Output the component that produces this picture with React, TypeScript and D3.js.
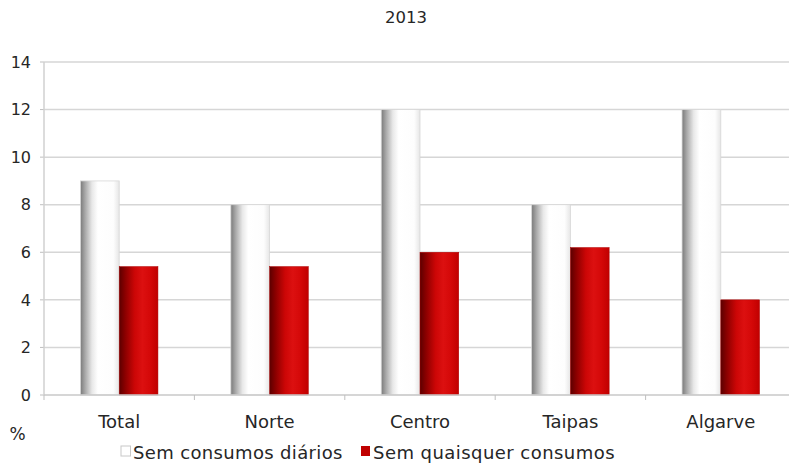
import React from "react";
import * as d3 from "d3";

const title = "2013";
const categories = ["Total", "Norte", "Centro", "Taipas", "Algarve"];
const seriesNames = ["Sem consumos diários", "Sem quaisquer consumos"];
const semConsumosDiarios = [9, 8, 12, 8, 12];
const semQuaisquerConsumos = [5.4, 5.4, 6, 6.2, 4];
const yTicks = [0, 2, 4, 6, 8, 10, 12, 14];

const W = 789;
const H = 465;
const FONT = "'DejaVu Sans', sans-serif";

export default function App() {
  const left = 44;
  const right = 796;
  const top = 62;
  const bottom = 395;
  const y = d3.scaleLinear().domain([0, 14]).range([bottom, top]);
  const x0 = d3.scaleBand<string>().domain(categories).range([left, right]).padding(0);
  const groupW = 77.5;
  const x1 = d3
    .scaleBand<string>()
    .domain(["a", "b"])
    .range([(x0.bandwidth() - groupW) / 2, (x0.bandwidth() + groupW) / 2])
    .padding(0);
  const bounds = categories.map((c) => x0(c) as number).concat([right]);

  return (
    <svg width={W} height={H} style={{ position: "absolute", left: 0, top: 0, background: "#fff" }}>
      <defs>
        <linearGradient id="gw" x1="0" x2="1" y1="0" y2="0">
          <stop offset="0" stopColor="#7a7a7a" />
          <stop offset="0.12" stopColor="#a8a8a8" />
          <stop offset="0.3" stopColor="#e8e8e8" />
          <stop offset="0.45" stopColor="#ffffff" />
          <stop offset="0.85" stopColor="#fdfdfd" />
          <stop offset="1" stopColor="#e6e6e6" />
        </linearGradient>
        <linearGradient id="gr" x1="0" x2="1" y1="0" y2="0">
          <stop offset="0" stopColor="#5c0000" />
          <stop offset="0.15" stopColor="#8a0000" />
          <stop offset="0.4" stopColor="#cc0606" />
          <stop offset="0.6" stopColor="#dc1010" />
          <stop offset="0.8" stopColor="#d40808" />
          <stop offset="1" stopColor="#c00000" />
        </linearGradient>
      </defs>
      <text x={406} y={23} textAnchor="middle" fontFamily={FONT} fontSize={16.5} fill="#262626">
        {title}
      </text>
      {yTicks.map((t) => (
        <g key={t}>
          {t > 0 && (
            <line x1={left} x2={W} y1={y(t)} y2={y(t)} stroke="#d6d6d6" strokeWidth={1.5} />
          )}
          <line x1={left - 4} x2={left} y1={y(t)} y2={y(t)} stroke="#bfbfbf" strokeWidth={1} />
          <text
            x={31}
            y={y(t)}
            dy="0.36em"
            textAnchor="end"
            fontFamily={FONT}
            fontSize={16}
            fill="#262626"
          >
            {t}
          </text>
        </g>
      ))}
      <line x1={left} x2={left} y1={top} y2={bottom} stroke="#d0d0d0" strokeWidth={1.5} />
      {categories.map((c, i) => {
        const gx = x0(c) as number;
        const xa = gx + (x1("a") as number);
        const xb = gx + (x1("b") as number);
        const bw = x1.bandwidth();
        return (
          <g key={c}>
            <rect
              x={xa}
              y={y(semConsumosDiarios[i])}
              width={bw}
              height={bottom - y(semConsumosDiarios[i])}
              fill="url(#gw)"
              stroke="#d8d8d8"
              strokeWidth={0.8}
            />
            <rect
              x={xb}
              y={y(semQuaisquerConsumos[i])}
              width={bw}
              height={bottom - y(semQuaisquerConsumos[i])}
              fill="url(#gr)"
              stroke="#b00000"
              strokeWidth={0.5}
            />
            <text
              x={gx + x0.bandwidth() / 2}
              y={428}
              textAnchor="middle"
              fontFamily={FONT}
              fontSize={18}
              fill="#262626"
            >
              {c}
            </text>
          </g>
        );
      })}
      <line x1={left} x2={W} y1={bottom} y2={bottom} stroke="#c8c8c8" strokeWidth={1.5} />
      {bounds.map((b, i) => (
        <line key={i} x1={b} x2={b} y1={bottom} y2={bottom + 5} stroke="#bfbfbf" strokeWidth={1} />
      ))}
      <text x={17.5} y={440} textAnchor="middle" fontFamily={FONT} fontSize={17} fill="#262626">
        %
      </text>
      <rect x={121} y={446} width={9.5} height={10} fill="#fff" stroke="#c8c8c8" strokeWidth={1} />
      <text x={133} y={459} fontFamily={FONT} fontSize={18} letterSpacing={0.35} fill="#262626">
        {seriesNames[0]}
      </text>
      <rect x={361} y={446} width={9} height={10} fill="#c00000" />
      <text x={373} y={459} fontFamily={FONT} fontSize={18} letterSpacing={0.45} fill="#262626">
        {seriesNames[1]}
      </text>
    </svg>
  );
}
